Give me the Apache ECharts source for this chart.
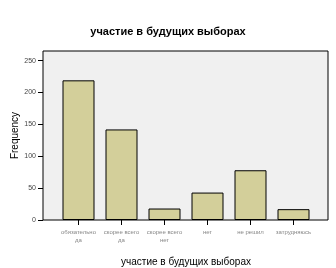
<!DOCTYPE html>
<html><head><meta charset="utf-8">
<script src="https://cdn.jsdelivr.net/npm/echarts@6/dist/echarts.min.js"></script>
<style>html,body{margin:0;padding:0;background:#fff}#c{width:336px;height:268px}</style>
</head><body><div id="c"></div>
<script>
var categories = ['обязательно\nда', 'скорее всего\nда', 'скорее всего\nнет', 'нет', 'не решил', 'затрудняюсь'];
var frequency = [219, 142, 18, 43, 78, 17];
var yTicks = [0, 50, 100, 150, 200, 250];
var titleText = 'участие в будущих выборах';
var xName = 'участие в будущих выборах';
var yName = 'Frequency';
var FONT = 'Liberation Sans, Arial, sans-serif';

var chart = echarts.init(document.getElementById('c'), null, {renderer: 'canvas'});
chart.setOption({
  animation: false,
  backgroundColor: '#ffffff',
  title: {
    text: titleText, left: 'center', top: 21,
    textStyle: {fontFamily: FONT, fontSize: 11, fontWeight: 'bold', color: '#000'}
  },
  grid: [
    {left: 43, right: 8, top: 51, bottom: 48, show: true, backgroundColor: '#f0f0f0', borderColor: '#000', borderWidth: 1, containLabel: false, outerBoundsMode: 'none'},
    {left: 57, width: 258, top: 51, bottom: 48, show: false, containLabel: false, outerBoundsMode: 'none'}
  ],
  xAxis: [
    {gridIndex: 0, type: 'value', show: false},
    {gridIndex: 1, type: 'category', data: categories,
     axisLine: {show: false},
     axisTick: {show: true, alignWithLabel: true, length: 5, lineStyle: {color: '#000', width: 1}},
     axisLabel: {fontFamily: FONT, fontSize: 6, color: '#888', lineHeight: 8, margin: 8, interval: 0},
     name: xName, nameLocation: 'middle', nameGap: 37, nameMoveOverlap: false,
     nameTextStyle: {fontFamily: FONT, fontSize: 10, color: '#000'}}
  ],
  yAxis: [
    {gridIndex: 0, type: 'value', min: 0, max: 265, interval: 50,
     axisLine: {show: false},
     axisTick: {show: true, length: 5, lineStyle: {color: '#000'}, customValues: yTicks},
     axisLabel: {fontFamily: FONT, fontSize: 7, color: '#444', margin: 7, customValues: yTicks},
     splitLine: {show: false},
     name: yName, nameLocation: 'middle', nameGap: 23, nameRotate: 90, nameMoveOverlap: false,
     nameTextStyle: {fontFamily: FONT, fontSize: 10, color: '#000'}},
    {gridIndex: 1, type: 'value', min: 0, max: 265, show: false, splitLine: {show: false}}
  ],
  series: [{
    type: 'bar', xAxisIndex: 1, yAxisIndex: 1, data: frequency, barWidth: 32,
    itemStyle: {color: '#d3cf9a', borderColor: '#000', borderWidth: 1}
  }]
});
</script></body></html>
